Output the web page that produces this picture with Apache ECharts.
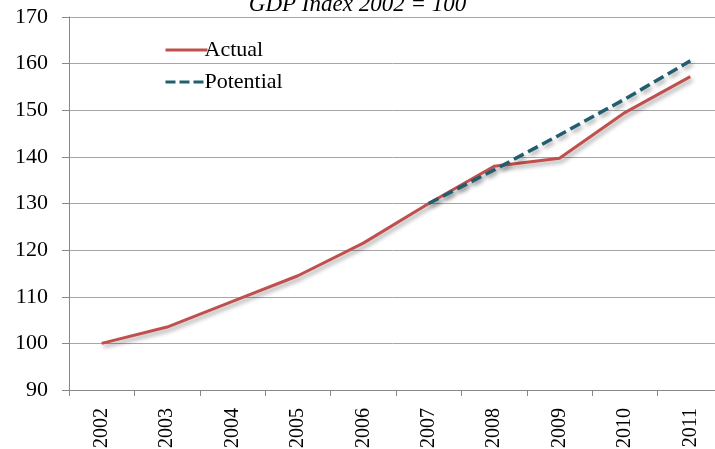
<!DOCTYPE html>
<html><head><meta charset="utf-8">
<script src="https://cdn.jsdelivr.net/npm/echarts@6/dist/echarts.min.js"></script>
<style>html,body{margin:0;padding:0;background:#fff;}#c{width:715px;height:449px;}</style>
</head><body><div id="c"></div>
<script>
const years = ['2002','2003','2004','2005','2006','2007','2008','2009','2010','2011'];
const actual = [100, 103.5, 109, 114.5, 121.5, 130, 138, 139.7, 149.5, 157.2];
const potential = [null, null, null, null, null, 130, 137.2, 144.7, 152.4, 160.6];
const yTicks = {min: 90, max: 170, interval: 10};
const titleText = 'GDP Index 2002 = 100';
const serif = '"Liberation Serif", "DejaVu Serif", serif';
const shadow = {shadowColor: 'rgba(0,0,0,0.35)', shadowBlur: 4, shadowOffsetX: 2, shadowOffsetY: 3};
const noShadow = {shadowColor: 'rgba(0,0,0,0)', shadowBlur: 0, shadowOffsetX: 0, shadowOffsetY: 0};
const red = '#C0504D', teal = '#215E6E';
const chart = echarts.init(document.getElementById('c'), null, {renderer: 'canvas'});
chart.setOption({
  animation: false,
  backgroundColor: '#fff',
  title: {text: titleText, left: 'center', top: -12,
    textStyle: {fontFamily: serif, fontStyle: 'italic', fontWeight: 'normal', fontSize: 23, color: '#000'}},
  legend: {orient: 'vertical', left: 159, top: 34, itemWidth: 42, itemHeight: 14, itemGap: 10,
    itemStyle: {opacity: 0},
    textStyle: {fontFamily: serif, fontSize: 22, color: '#000', padding: [0, 0, 0, -8]},
    data: [
      {name: 'Actual', lineStyle: Object.assign({color: red, width: 3, type: 'solid'}, noShadow)},
      {name: 'Potential', lineStyle: Object.assign({color: teal, width: 3, type: [10, 4]}, noShadow)}
    ]},
  grid: {left: 69, width: 654, top: 17, height: 373, containLabel: false, outerBoundsMode: 'none'},
  xAxis: {type: 'category', data: years, boundaryGap: true,
    axisLine: {lineStyle: {color: '#888', width: 1}},
    axisTick: {show: true, length: 6, lineStyle: {color: '#888'}},
    axisLabel: {rotate: 90, margin: 18, fontFamily: serif, fontSize: 20, color: '#000'}},
  yAxis: {type: 'value', min: yTicks.min, max: yTicks.max, interval: yTicks.interval,
    axisLine: {show: true, lineStyle: {color: '#888'}},
    axisTick: {show: true, length: 7, lineStyle: {color: '#888'}},
    splitLine: {lineStyle: {color: '#a6a6a6', width: 1}},
    axisLabel: {margin: 21, fontFamily: serif, fontSize: 22, color: '#000'}},
  series: [
    {name: 'Actual', type: 'line', data: actual, symbol: 'none', z: 3,
      lineStyle: Object.assign({color: red, width: 3}, shadow), itemStyle: {color: red}},
    {name: 'Potential', type: 'line', data: potential, symbol: 'none', z: 4,
      lineStyle: Object.assign({color: teal, width: 3.5, type: [11, 5]}, shadow), itemStyle: {color: teal}}
  ]
});
</script></body></html>
